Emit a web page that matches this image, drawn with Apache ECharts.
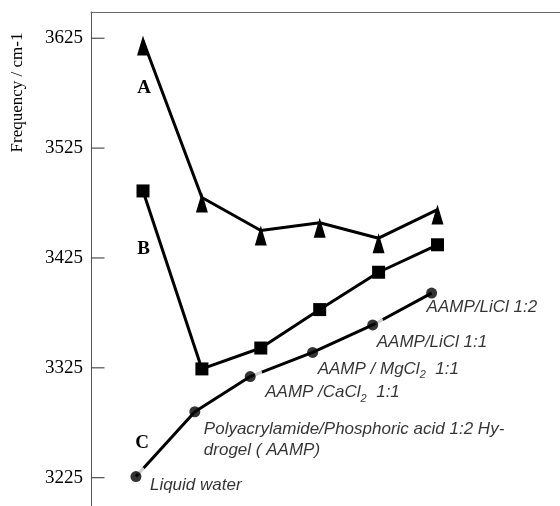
<!DOCTYPE html>
<html>
<head>
<meta charset="utf-8">
<script src="https://cdn.jsdelivr.net/npm/echarts@6/dist/echarts.min.js"></script>
<style>html,body{margin:0;padding:0;background:#fff;}#c{width:560px;height:506px;}</style>
</head>
<body>
<div id="c"></div>
<script>
// ---- data ----
const yTicks = [3225, 3325, 3425, 3525, 3625];
const xAB = [0, 1, 2, 3, 4, 5];
const seriesA = [3623, 3480, 3450, 3457, 3443, 3469];
const seriesB = [3486, 3324, 3343, 3378, 3412, 3437];
const xC = [-0.12, 0.88, 1.82, 2.88, 3.9, 4.9];
const seriesC = [3226, 3285, 3317, 3339, 3364, 3393];
const labelsC = [
  'Liquid water',
  'Polyacrylamide/Phosphoric acid 1:2 Hy-\ndrogel ( AAMP)',
  'AAMP /CaCl{sub|2}  1:1',
  'AAMP / MgCl{sub|2}  1:1',
  'AAMP/LiCl 1:1',
  'AAMP/LiCl 1:2'
];
const seriesNames = ['A', 'B', 'C'];

// ---- styling (positions / offsets) ----
const labelOffsets = [[14, 9], [9, 28], [15, 16], [5, 16.5], [4, 17], [-5, 14]];
const gapIdx = [0, 2, 4];
const gapOffsets = [[5, -5.5], [8, -3.1], [6.6, -3.5]];
const X_MIN = -0.883, X_MAX = 7.08, Y_MIN = 3199.2, Y_MAX = 3648.9;

const pairs = (xs, ys) => xs.map((x, i) => [x, ys[i]]);

const chart = echarts.init(document.getElementById('c'), null, {renderer: 'canvas'});
const annFont = {fontFamily: 'Liberation Sans', fontStyle: 'italic', fontSize: 17, color: '#000'};

const cDots = pairs(xC, seriesC).map((p, i) => ({
  value: p,
  label: {
    show: true,
    position: 'inside',
    align: 'left',
    verticalAlign: 'middle',
    offset: labelOffsets[i],
    formatter: labelsC[i],
    lineHeight: 21,
    ...annFont,
    rich: {
      sub: {fontFamily: 'Liberation Sans', fontStyle: 'italic', fontSize: 11, lineHeight: 11, padding: [12, 0, 0, 0], color: '#000'}
    }
  }
}));
const gapMasks = gapIdx.map((idx, k) => ({
  value: [xC[idx], seriesC[idx]],
  symbolOffset: gapOffsets[k]
}));

const letterStyle = {fontFamily: 'Liberation Serif', fontWeight: 'bold', fontSize: 19, fill: '#000', align: 'center', verticalAlign: 'middle'};

const option = {
  animation: false,
  backgroundColor: '#fff',
  grid: {left: 91, right: 0, top: 12, bottom: 0, containLabel: false},
  xAxis: {
    type: 'value', position: 'top', min: X_MIN, max: X_MAX,
    axisLine: {show: true, onZero: false, lineStyle: {color: '#6a6a6a', width: 1}},
    axisTick: {show: false}, axisLabel: {show: false}, splitLine: {show: false}
  },
  yAxis: {
    type: 'value', min: Y_MIN, max: Y_MAX,
    axisLine: {show: true, onZero: false, lineStyle: {color: '#555', width: 1}},
    axisTick: {show: false},
    axisLabel: {show: true, customValues: yTicks, margin: 8, fontFamily: 'Liberation Serif', fontSize: 19, color: '#000',
      formatter: v => String(v)},
    splitLine: {show: false}
  },
  graphic: [
    {type: 'text', x: 17.5, y: 92.5, rotation: Math.PI / 2,
     style: {text: 'Frequency / cm-1', fontFamily: 'Liberation Serif', fontSize: 17, fill: '#000', align: 'center', verticalAlign: 'middle'}},
    {type: 'text', x: 144, y: 88.5, style: Object.assign({text: seriesNames[0]}, letterStyle)},
    {type: 'text', x: 143.5, y: 249, style: Object.assign({text: seriesNames[1]}, letterStyle)},
    {type: 'text', x: 142, y: 443, style: Object.assign({text: seriesNames[2]}, letterStyle)}
  ],
  series: [
    {
      // inward tick marks of the y axis, placed on the axis scale
      type: 'scatter', data: yTicks.map(v => [X_MIN, v]), symbol: 'rect', symbolSize: [13, 1.2],
      symbolOffset: [7, 0], itemStyle: {color: '#222'}, clip: false, silent: true, z: 1
    },
    {
      name: seriesNames[0], type: 'line', data: pairs(xAB, seriesA),
      symbol: 'triangle', symbolSize: [12, 20], symbolOffset: [0, 5],
      lineStyle: {color: '#000', width: 3}, itemStyle: {color: '#000'}, z: 3
    },
    {
      name: seriesNames[1], type: 'line', data: pairs(xAB, seriesB),
      symbol: 'rect', symbolSize: 13,
      lineStyle: {color: '#000', width: 3}, itemStyle: {color: '#000'}, z: 3
    },
    {
      name: seriesNames[2], type: 'line', data: pairs(xC, seriesC),
      symbol: 'none', lineStyle: {color: '#000', width: 3}, z: 2
    },
    {
      type: 'scatter', data: gapMasks, symbol: 'circle', symbolSize: 8,
      itemStyle: {color: '#fff'}, z: 4, silent: true
    },
    {
      name: seriesNames[2] + ' points', type: 'scatter', data: cDots, symbol: 'circle', symbolSize: 11,
      itemStyle: {color: '#000'}, z: 5
    }
  ]
};
chart.setOption(option);
</script>
</body>
</html>
